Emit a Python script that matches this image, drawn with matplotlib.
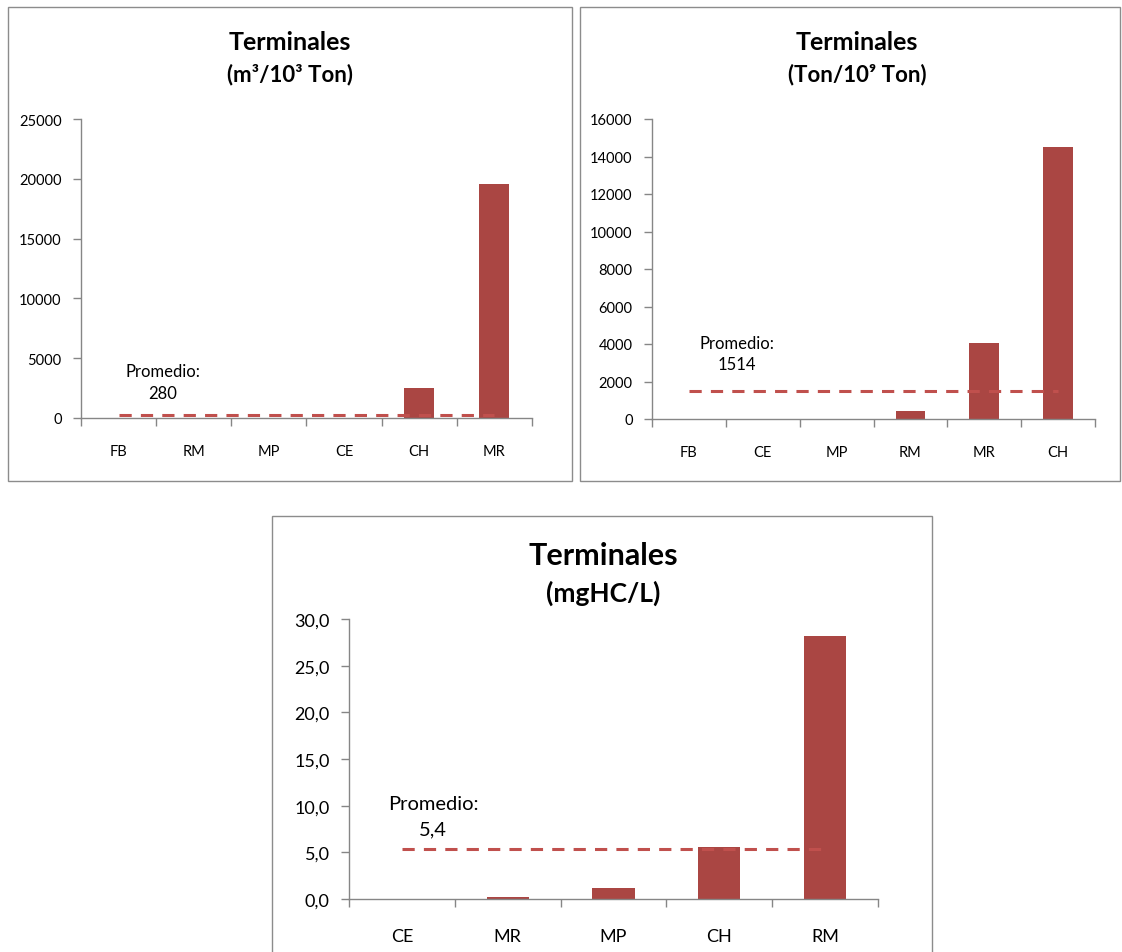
import matplotlib
matplotlib.use('Agg')
import matplotlib.pyplot as plt
from matplotlib.patches import Rectangle
from matplotlib.ticker import FuncFormatter

plt.rcParams['font.family'] = ['Lato', 'DejaVu Sans']

W, H = 1122, 953

# data
cats1 = ['FB', 'RM', 'MP', 'CE', 'CH', 'MR']
vals1 = [0, 40, 30, 20, 2500, 19600]
prom1 = 280

cats2 = ['FB', 'CE', 'MP', 'RM', 'MR', 'CH']
vals2 = [0, 0, 20, 410, 4030, 14500]
prom2 = 1514

cats3 = ['CE', 'MR', 'MP', 'CH', 'RM']
vals3 = [0.0, 0.2, 1.2, 5.6, 28.2]
prom3 = 5.4

bar_color = '#AA4643'
line_color = '#C0504D'
axis_color = '#868686'

fig = plt.figure(figsize=(W / 100, H / 100), dpi=100)
fig.patch.set_facecolor('white')


def fx(x):
    return x / W


def fy(y):
    return 1 - y / H


def box(x0, y0, x1, y1):
    fig.patches.append(Rectangle((fx(x0), fy(y1)), fx(x1 - x0), (y1 - y0) / H,
                                 transform=fig.transFigure, fill=False,
                                 edgecolor='#8C8C8C', linewidth=1.0, zorder=0))


def panel(left, right, top, bottom, cats, vals, prom, ymax, ystep, fmt, fs, xpad):
    ax = fig.add_axes([fx(left), fy(bottom), fx(right - left), (bottom - top) / H])
    n = len(cats)
    x = list(range(n))
    ax.bar(x, vals, width=0.4, color=bar_color, zorder=2)
    ax.plot([0, n - 1], [prom, prom], color=line_color, linestyle=(0, (4, 3)),
            linewidth=2.2, zorder=3)
    ax.set_xlim(-0.5, n - 0.5)
    ax.set_ylim(0, ymax)
    yt = [i * ystep for i in range(int(round(ymax / ystep)) + 1)]
    ax.set_yticks(yt)
    ax.yaxis.set_major_formatter(FuncFormatter(fmt))
    ax.set_xticks([i - 0.5 for i in range(n + 1)])
    ax.set_xticklabels([])
    ax.set_xticks(x, minor=True)
    ax.set_xticklabels(cats, minor=True)
    ax.tick_params(axis='x', which='major', direction='out', length=6,
                   color=axis_color, width=1)
    ax.tick_params(axis='x', which='minor', length=0, pad=xpad, labelsize=fs)
    ax.tick_params(axis='y', direction='out', length=6, color=axis_color,
                   width=1, labelsize=fs, pad=8)
    for s in ['top', 'right']:
        ax.spines[s].set_visible(False)
    for s in ['left', 'bottom']:
        ax.spines[s].set_color(axis_color)
        ax.spines[s].set_linewidth(1)
    ax.patch.set_alpha(0)
    return ax


fmt_int = lambda v, p: '%d' % v
fmt_dec = lambda v, p: ('%.1f' % v).replace('.', ',')

# panel 1
box(8, 8, 572, 482)
panel(81, 532, 120, 419, cats1, vals1, prom1, 25000, 5000, fmt_int, 10.5, 19)
fig.text(fx(290), fy(42), 'Terminales', ha='center', va='center',
         fontsize=18, fontweight='bold')
fig.text(fx(290), fy(75), '(m³/10³ Ton)', ha='center', va='center',
         fontsize=16, fontweight='bold')
fig.text(fx(163), fy(372), 'Promedio:', ha='center', va='center', fontsize=12)
fig.text(fx(163), fy(394), '280', ha='center', va='center', fontsize=12)

# panel 2
box(580, 8, 1120, 482)
panel(652, 1095, 120, 420, cats2, vals2, prom2, 16000, 2000, fmt_int, 10.5, 19)
fig.text(fx(857), fy(42), 'Terminales', ha='center', va='center',
         fontsize=18, fontweight='bold')
fig.text(fx(857), fy(75), '(Ton/10⁹ Ton)', ha='center', va='center',
         fontsize=16, fontweight='bold')
fig.text(fx(737), fy(344), 'Promedio:', ha='center', va='center', fontsize=12)
fig.text(fx(737), fy(365), '1514', ha='center', va='center', fontsize=12)

# panel 3
box(272, 517, 932, 960)
panel(349, 878, 620, 900, cats3, vals3, prom3, 30, 5, fmt_dec, 13, 21)
fig.text(fx(603), fy(556), 'Terminales', ha='center', va='center',
         fontsize=22, fontweight='bold')
fig.text(fx(603), fy(593), '(mgHC/L)', ha='center', va='center',
         fontsize=19, fontweight='bold')
fig.text(fx(433), fy(805), 'Promedio:', ha='center', va='center', fontsize=14.5)
fig.text(fx(433), fy(830), '5,4', ha='center', va='center', fontsize=14.5)

fig.savefig('out.png', dpi=100)
